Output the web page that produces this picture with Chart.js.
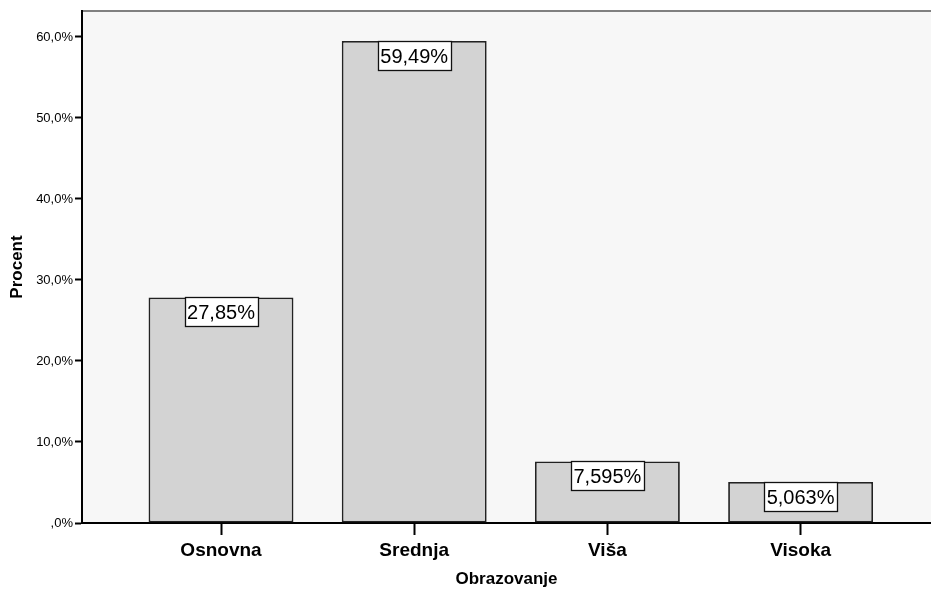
<!DOCTYPE html>
<html>
<head>
<meta charset="utf-8">
<script src="https://cdn.jsdelivr.net/npm/chart.js@4"></script>
<style>
  html, body { margin: 0; padding: 0; background: #fff; }
  #chart { display: block; }
</style>
</head>
<body>
<canvas id="chart" width="931" height="590"></canvas>
<script>
const categories = ['Osnovna', 'Srednja', 'Viša', 'Visoka'];
const percents = [27.85, 59.49, 7.595, 5.063];
const percentLabels = ['27,85%', '59,49%', '7,595%', '5,063%'];
const yTicks = [0, 10, 20, 30, 40, 50, 60];

Chart.defaults.font.family = '"Liberation Sans", Arial, sans-serif';
Chart.defaults.color = '#000';

const points = percents.map((v, i) => ({ x: i, y: v }));

// plot background + grey top frame line
const plotBg = {
  id: 'plotBg',
  beforeDraw(chart) {
    const { ctx, chartArea: a } = chart;
    ctx.save();
    ctx.fillStyle = '#f7f7f7';
    ctx.fillRect(a.left, a.top, a.right - a.left, a.bottom - a.top);
    ctx.strokeStyle = '#808080';
    ctx.lineWidth = 2;
    ctx.beginPath();
    ctx.moveTo(a.left, a.top);
    ctx.lineTo(chart.width, a.top);
    ctx.stroke();
    ctx.restore();
  }
};

// white boxed value labels at top of each bar
const valueBoxes = {
  id: 'valueBoxes',
  afterDatasetsDraw(chart) {
    const { ctx } = chart;
    const meta = chart.getDatasetMeta(0);
    ctx.save();
    ctx.font = '20px "Liberation Sans", Arial, sans-serif';
    ctx.textAlign = 'center';
    ctx.textBaseline = 'middle';
    meta.data.forEach((bar, i) => {
      const txt = percentLabels[i];
      const w = Math.round(ctx.measureText(txt).width + 5);
      const h = 29;
      const x = Math.round(bar.x - w / 2) + 0.5;
      const y = Math.round(bar.y) + 0.5;
      ctx.fillStyle = '#fff';
      ctx.fillRect(x, y, w, h);
      ctx.strokeStyle = '#111';
      ctx.lineWidth = 1.3;
      ctx.strokeRect(x, y, w, h);
      ctx.fillStyle = '#000';
      ctx.fillText(txt, bar.x, y + h / 2 + 1);
    });
    ctx.restore();
  }
};

new Chart(document.getElementById('chart'), {
  type: 'bar',
  data: {
    datasets: [{
      label: 'Procent',
      data: points,
      backgroundColor: '#d3d3d3',
      borderColor: '#222',
      borderWidth: 1.8,
      borderSkipped: false,
      barPercentage: 0.75,
      categoryPercentage: 1
    }]
  },
  options: {
    responsive: false,
    animation: false,
    devicePixelRatio: 1,
    layout: { padding: { top: 11, right: 0, left: 0, bottom: 0 } },
    plugins: {
      legend: { display: false },
      tooltip: { enabled: false }
    },
    scales: {
      x: {
        type: 'linear',
        offset: false,
        min: -0.7195,
        max: 3.675,
        afterBuildTicks(scale) {
          scale.ticks = categories.map((c, i) => ({ value: i }));
        },
        afterFit(scale) { scale.height = 67; },
        ticks: {
          padding: 4,
          font: { size: 19, weight: 'bold' },
          callback: (v) => categories[v]
        },
        grid: {
          offset: false,
          drawOnChartArea: false,
          tickLength: 12,
          tickWidth: 2,
          tickColor: '#000'
        },
        border: { color: '#000', width: 2 },
        title: {
          display: true,
          text: 'Obrazovanje',
          font: { size: 17, weight: 'bold' },
          padding: { top: 0, bottom: 0 }
        }
      },
      y: {
        min: 0,
        max: 63.2,
        afterBuildTicks(scale) {
          scale.ticks = yTicks.map(v => ({ value: v }));
        },
        afterFit(scale) { scale.width = 82; },
        ticks: {
          padding: 2,
          font: { size: 13 },
          callback: (v) => v === 0 ? ',0%' : v.toFixed(1).replace('.', ',') + '%'
        },
        grid: {
          drawOnChartArea: false,
          tickLength: 7,
          tickWidth: 2,
          tickColor: '#000'
        },
        border: { color: '#000', width: 2 },
        title: {
          display: true,
          text: 'Procent',
          font: { size: 17, weight: 'bold' },
          padding: { top: 7, bottom: 0 }
        }
      }
    }
  },
  plugins: [plotBg, valueBoxes]
});
</script>
</body>
</html>
